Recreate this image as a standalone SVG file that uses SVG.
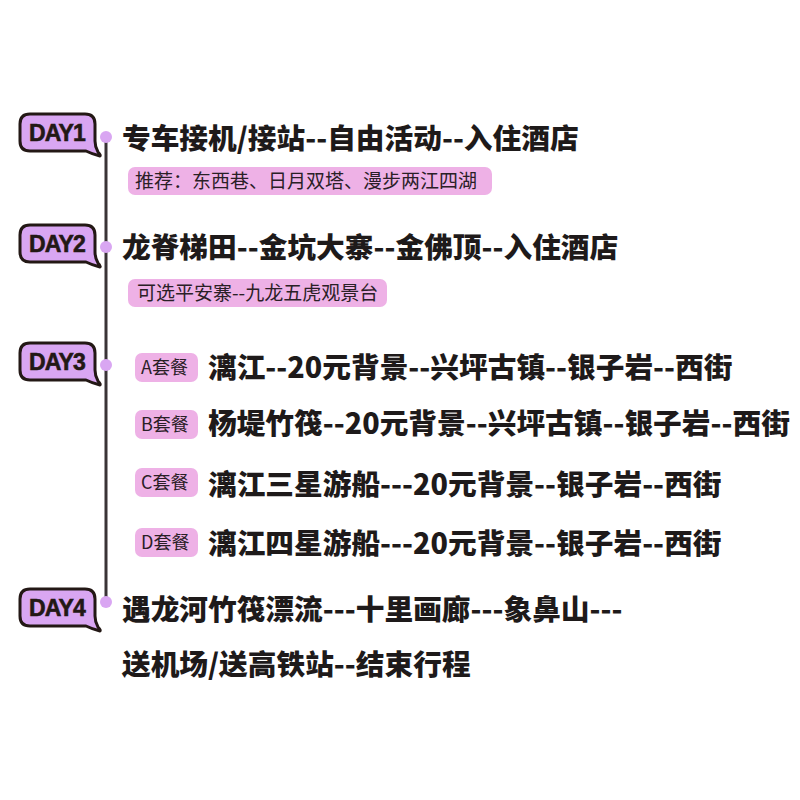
<svg xmlns="http://www.w3.org/2000/svg" width="800" height="800" viewBox="0 0 800 800">
<style>
.main{font-family:"Noto Sans CJK SC","Noto Sans",sans-serif;font-weight:900;font-size:28.7px;fill:#1e1a1a}
.note{font-family:"Noto Sans CJK SC","Noto Sans",sans-serif;font-weight:400;font-size:19px;fill:#2a2026}
.tagt{font-family:"Noto Sans CJK SC","Noto Sans",sans-serif;font-weight:400;font-size:18px;fill:#2a2026}
.pink{fill:#eeb1e6}
.badge{fill:#d9a6f2;stroke:#231815;stroke-width:3;stroke-linejoin:round}
.badget{font-family:"Liberation Sans","Noto Sans",sans-serif;font-weight:700;font-size:23px;fill:#231815;stroke:#231815;stroke-width:0.6;letter-spacing:-0.8px}
.dot{fill:#d9a6f2}
</style>
<defs>
<path id="bub" d="M10,0 H65 Q75,0 75,10 V27 Q75,33 78,38 Q81,41 80,42 Q72,40 66,37 H10 Q0,37 0,27 V10 Q0,0 10,0 Z"/>
</defs>
<rect width="800" height="800" fill="#ffffff"/>
<g id="connectors">
<line x1="106" y1="137" x2="106" y2="602" stroke="#3a3436" stroke-width="3"/>
</g>
<g id="day1">
<use href="#bub" class="badge" transform="translate(20,114)"/>
<text class="badget" x="57" y="141" text-anchor="middle">DAY1</text>
<circle class="dot" cx="106" cy="137" r="6"/>
<text class="main" x="122" y="149">专车接机/接站--自由活动--入住酒店</text>
<rect class="pink" x="128" y="167" width="364" height="28" rx="7"/>
<text class="note" x="135" y="188">推荐：东西巷、日月双塔、漫步两江四湖</text>
</g>
<g id="day2">
<use href="#bub" class="badge" transform="translate(20,225)"/>
<text class="badget" x="57" y="252" text-anchor="middle">DAY2</text>
<circle class="dot" cx="106" cy="247" r="6"/>
<text class="main" x="122" y="258">龙脊梯田--金坑大寨--金佛顶--入住酒店</text>
<rect class="pink" x="128" y="279" width="259" height="28" rx="7"/>
<text class="note" x="137" y="300">可选平安寨--九龙五虎观景台</text>
</g>
<g id="day3">
<use href="#bub" class="badge" transform="translate(20,343)"/>
<text class="badget" x="57" y="370" text-anchor="middle">DAY3</text>
<circle class="dot" cx="106" cy="365" r="6"/>
</g>
<g id="pkgA">
<rect class="pink" x="135" y="353" width="63" height="29" rx="7"/>
<text class="tagt" x="141" y="374">A套餐</text>
<text class="main" x="208" y="378">漓江--20元背景--兴坪古镇--银子岩--西街</text>
</g>
<g id="pkgB">
<rect class="pink" x="135" y="410" width="63" height="29" rx="7"/>
<text class="tagt" x="141" y="431">B套餐</text>
<text class="main" x="208" y="434">杨堤竹筏--20元背景--兴坪古镇--银子岩--西街</text>
</g>
<g id="pkgC">
<rect class="pink" x="135" y="468" width="63" height="29" rx="7"/>
<text class="tagt" x="141" y="489">C套餐</text>
<text class="main" x="208" y="495">漓江三星游船---20元背景--银子岩--西街</text>
</g>
<g id="pkgD">
<rect class="pink" x="135" y="528" width="63" height="29" rx="7"/>
<text class="tagt" x="141" y="549">D套餐</text>
<text class="main" x="208" y="554">漓江四星游船---20元背景--银子岩--西街</text>
</g>
<g id="day4">
<use href="#bub" class="badge" transform="translate(20,589)"/>
<text class="badget" x="57" y="616" text-anchor="middle">DAY4</text>
<circle class="dot" cx="106" cy="602" r="6"/>
<text class="main" x="122" y="620">遇龙河竹筏漂流---十里画廊---象鼻山---</text>
<text class="main" x="122" y="675">送机场/送高铁站--结束行程</text>
</g>
</svg>
